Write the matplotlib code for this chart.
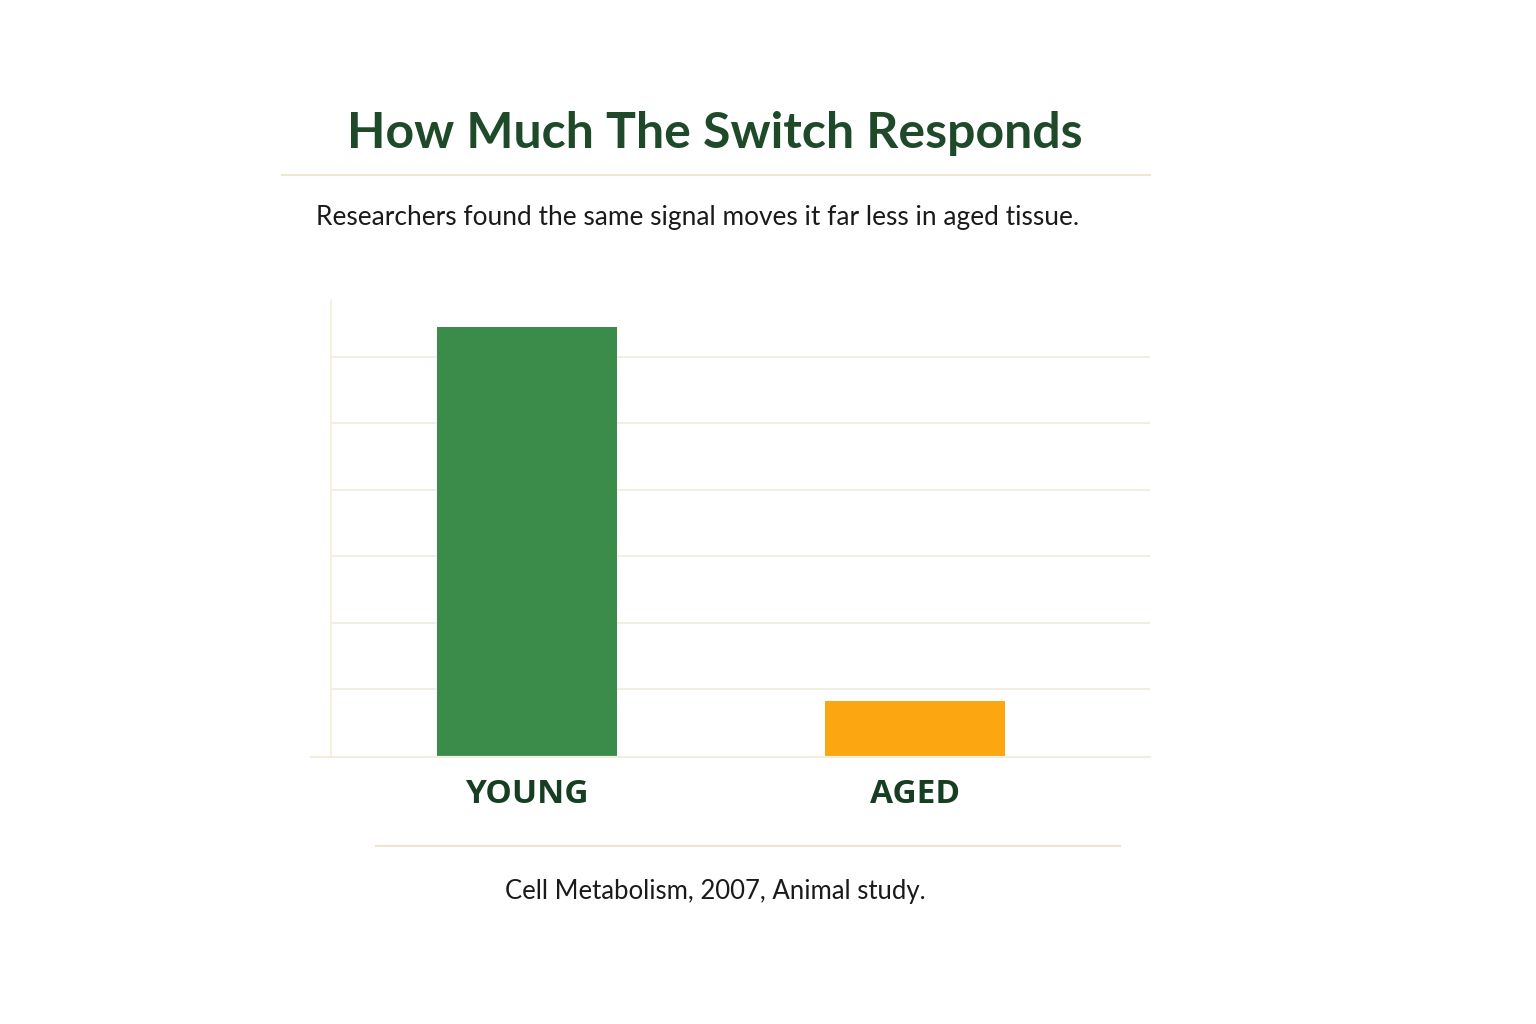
import matplotlib
matplotlib.use('Agg')
from matplotlib import pyplot as plt
from matplotlib.lines import Line2D

# data
groups = ['YOUNG', 'AGED']
response = [6.45, 0.82]
bar_colors = ['#3b8c4a', '#fca712']

title = 'How Much The Switch Responds'
subtitle = 'Researchers found the same signal moves it far less in aged tissue.'
source = 'Cell Metabolism, 2007, Animal study.'

W, H = 1536, 1024
fig = plt.figure(figsize=(W / 100, H / 100), dpi=100)
fig.patch.set_facecolor('white')

rule_col = '#efe6d2'
grid_col = '#f1eedf'

# axes placed in pixel coords of the reference
left, right, top, bottom = 331, 1150, 300, 756
ax = fig.add_axes([left / W, 1 - bottom / H, (right - left) / W, (bottom - top) / H])

x = list(range(len(groups)))
ax.bar(x, response, width=0.465, color=bar_colors, zorder=3)

ax.set_xlim(-0.505, 1.606)
ax.set_ylim(0, 6.85)
ax.set_yticks([1, 2, 3, 4, 5, 6])
ax.yaxis.grid(True, color=grid_col, linewidth=1.3, zorder=0)
ax.tick_params(axis='y', length=0, labelleft=False)
ax.set_xticks(x)
ax.set_xticklabels(groups, fontsize=24, fontweight='bold', color='#173d22', family='Open Sans')
ax.tick_params(axis='x', length=0, pad=16)

for s in ['top', 'right', 'bottom']:
    ax.spines[s].set_visible(False)
ax.spines['left'].set_color('#f5efd8')
ax.spines['left'].set_linewidth(1.2)

# baseline reaching a bit left of the y axis
fig.add_artist(Line2D([311 / W, 1150 / W], [1 - 757 / H] * 2, color=grid_col, linewidth=1.6))

# title, rules, subtitle, source
fig.text(715 / W, 1 - 148 / H, title, ha='center', va='baseline', fontsize=36,
         color='#1e4a2a', family='Lato', fontweight='bold')
fig.add_artist(Line2D([282 / W, 1150 / W], [1 - 175 / H] * 2, color=rule_col, linewidth=1.5))
fig.text(316 / W, 1 - 217 / H, subtitle, ha='left', va='center', fontsize=18.9,
         color='#1a1a1a', family='Lato')
fig.add_artist(Line2D([376 / W, 1120 / W], [1 - 846 / H] * 2, color=rule_col, linewidth=1.5))
fig.text(715 / W, 1 - 892 / H, source, ha='center', va='center', fontsize=18.5,
         color='#1a1a1a', family='Lato')

plt.savefig('out.png', dpi=100, facecolor='white')
plt.close()
